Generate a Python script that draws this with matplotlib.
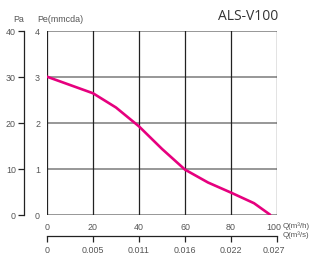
import matplotlib
matplotlib.use("Agg")
import matplotlib.pyplot as plt
import matplotlib.transforms as mtransforms

# Data
flow_m3h = [0, 10, 20, 30, 40, 50, 60, 70, 80, 90, 97]
pressure_mmcda = [3.0, 2.82, 2.64, 2.33, 1.92, 1.43, 0.98, 0.70, 0.48, 0.25, 0.0]
x_ticks = [0, 20, 40, 60, 80, 100]
pe_ticks = [0, 1, 2, 3, 4]
pa_ticks = [0, 10, 20, 30, 40]
q_s_labels = ["0", "0.005", "0.011", "0.016", "0.022", "0.027"]
title = "ALS-V100"

W, H = 312, 255
fig = plt.figure(figsize=(W / 100, H / 100), dpi=100)
plt.rcParams['font.family'] = ['Liberation Sans', 'DejaVu Sans']
tc = '#555555'
fs = 6.4

def fx(px):
    return px / W

def fy(py):
    return 1 - py / H

L, R, T, B = 47, 277, 31.7, 215.7
ax = fig.add_axes([fx(L), fy(B), fx(R) - fx(L), fy(T) - fy(B)])
ax.set_xlim(0, 100)
ax.set_ylim(0, 4)
for v in pe_ticks:
    ax.axhline(v, color='#8f8f8f', lw=1.3, zorder=1)
for v in x_ticks:
    ax.axvline(v, color='#222222', lw=0.9, zorder=2)
ax.plot(flow_m3h, pressure_mmcda, color='#E6007E', lw=1.9, zorder=3,
        solid_capstyle='round', solid_joinstyle='round')
for s in ax.spines.values():
    s.set_visible(False)
ax.set_xticks(x_ticks)
ax.set_yticks(pe_ticks)
ax.tick_params(length=0, labelsize=fs, labelcolor=tc)
ax.tick_params(axis='x', pad=5.0)
ax.tick_params(axis='y', pad=5.0)

# Pa axis
axp = fig.add_axes([fx(24.3), fy(B), 0.001, fy(T) - fy(B)])
axp.set_ylim(0, 40)
axp.set_yticks(pa_ticks)
axp.set_xticks([])
for k in ['top', 'right', 'bottom']:
    axp.spines[k].set_visible(False)
axp.spines['left'].set_color('#222222')
axp.spines['left'].set_linewidth(0.9)
axp.patch.set_visible(False)
axp.tick_params(axis='y', direction='out', length=4.5, width=0.9, color='#222222',
                labelsize=fs, labelcolor=tc, pad=1.5)

# Second x axis (m3/s)
axq = fig.add_axes([fx(L), fy(237.3), fx(R) - fx(L), 0.001])
axq.set_xlim(0, 100)
axq.set_yticks([])
axq.set_xticks(x_ticks)
axq.set_xticklabels(q_s_labels)
for k in ['top', 'right', 'left']:
    axq.spines[k].set_visible(False)
axq.spines['bottom'].set_color('#222222')
axq.spines['bottom'].set_linewidth(0.9)
axq.patch.set_visible(False)
axq.tick_params(axis='x', direction='out', length=4.0, width=0.9, color='#222222',
                labelsize=fs, labelcolor=tc, pad=2.5)

# shift the last labels slightly left, as in the reference
shift = mtransforms.ScaledTranslation(-3 / 100, 0, fig.dpi_scale_trans)
for a in (ax, axq):
    lab = a.get_xticklabels()[-1]
    lab.set_transform(lab.get_transform() + shift)

# Texts
fig.text(fx(278), fy(17), title, ha='right', va='center', fontsize=10,
         family=['Open Sans', 'DejaVu Sans'], color='#333333')
fig.text(fx(19), fy(19), "Pa", ha='center', va='center', fontsize=fs, color=tc)
fig.text(fx(37), fy(19), "Pe(mmcda)", ha='left', va='center', fontsize=fs, color=tc)
fig.text(fx(283), fy(226), "Q(m³/h)", ha='left', va='center', fontsize=5.7, color=tc)
fig.text(fx(283), fy(235.5), "Q(m³/s)", ha='left', va='center', fontsize=5.7, color=tc)

fig.savefig("out.png", dpi=100)
